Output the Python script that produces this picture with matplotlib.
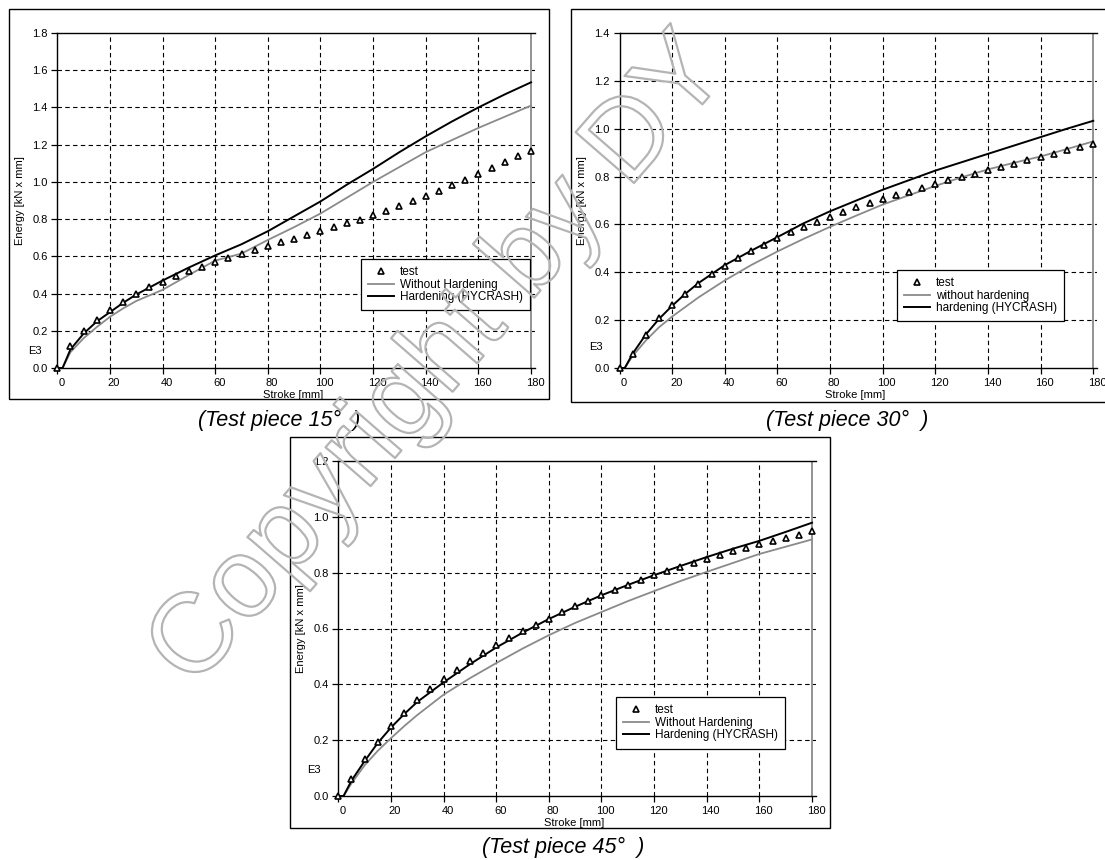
import matplotlib
matplotlib.use('Agg')
import matplotlib.pyplot as plt
import matplotlib.patheffects as pe
from matplotlib.patches import Rectangle
from matplotlib.transforms import ScaledTranslation

plt.rcParams['font.family'] = ['Liberation Sans', 'DejaVu Sans']

# test points (every 5 mm)
test_stroke = [0, 5, 10, 15, 20, 25, 30, 35, 40, 45, 50, 55, 60, 65, 70, 75, 80, 85, 90,
               95, 100, 105, 110, 115, 120, 125, 130, 135, 140, 145, 150, 155, 160, 165,
               170, 175, 180]
test_15 = [0.0, 0.12, 0.20, 0.26, 0.31, 0.356, 0.396, 0.434, 0.464, 0.494, 0.521, 0.544,
           0.571, 0.593, 0.613, 0.634, 0.656, 0.677, 0.695, 0.715, 0.738, 0.756, 0.777,
           0.797, 0.82, 0.845, 0.87, 0.896, 0.924, 0.953, 0.982, 1.012, 1.042, 1.076,
           1.105, 1.137, 1.166]
test_30 = [0.0, 0.057, 0.14, 0.207, 0.262, 0.311, 0.353, 0.392, 0.426, 0.458, 0.488, 0.516,
           0.542, 0.567, 0.59, 0.611, 0.632, 0.653, 0.671, 0.688, 0.705, 0.723, 0.737,
           0.754, 0.769, 0.784, 0.798, 0.812, 0.826, 0.842, 0.854, 0.868, 0.882, 0.896,
           0.91, 0.924, 0.935]
test_45 = [0.0, 0.061, 0.132, 0.195, 0.249, 0.299, 0.345, 0.383, 0.419, 0.451, 0.482, 0.512,
           0.54, 0.565, 0.59, 0.614, 0.635, 0.658, 0.68, 0.70, 0.719, 0.737, 0.755, 0.772,
           0.79, 0.805, 0.82, 0.835, 0.85, 0.865, 0.877, 0.889, 0.901, 0.913, 0.925,
           0.936, 0.949]

# simulation curves
sim_stroke = [0, 2, 5, 10, 15, 20, 25, 30, 40, 50, 60, 70, 80, 90, 100, 110, 120, 130,
              140, 150, 160, 170, 180]
nohard_15 = [0.0, 0.0, 0.085, 0.16, 0.22, 0.275, 0.32, 0.36, 0.42, 0.50, 0.577, 0.615,
             0.688, 0.757, 0.83, 0.915, 1.0, 1.08, 1.16, 1.225, 1.29, 1.35, 1.41]
hard_15 = [0.0, 0.0, 0.10, 0.185, 0.25, 0.30, 0.35, 0.395, 0.47, 0.54, 0.605, 0.665,
           0.735, 0.815, 0.895, 0.985, 1.07, 1.16, 1.245, 1.325, 1.40, 1.47, 1.535]
nohard_30 = [0.0, 0.0, 0.05, 0.115, 0.17, 0.215, 0.255, 0.295, 0.366, 0.43, 0.487, 0.54,
             0.59, 0.637, 0.683, 0.722, 0.761, 0.797, 0.83, 0.858, 0.884, 0.915, 0.947]
hard_30 = [0.0, 0.0, 0.06, 0.14, 0.205, 0.26, 0.31, 0.355, 0.43, 0.49, 0.547, 0.605,
           0.655, 0.70, 0.745, 0.785, 0.825, 0.86, 0.895, 0.93, 0.965, 1.0, 1.033]
nohard_45 = [0.0, 0.0, 0.045, 0.11, 0.162, 0.207, 0.25, 0.29, 0.363, 0.422, 0.476, 0.528,
             0.576, 0.62, 0.659, 0.698, 0.734, 0.77, 0.803, 0.835, 0.867, 0.893, 0.919]
hard_45 = [0.0, 0.0, 0.055, 0.125, 0.19, 0.245, 0.293, 0.337, 0.407, 0.472, 0.532, 0.585,
           0.634, 0.678, 0.719, 0.756, 0.791, 0.824, 0.856, 0.886, 0.914, 0.946, 0.979]

x_ticks = [0, 20, 40, 60, 80, 100, 120, 140, 160, 180]

W, H = 1105, 860
fig = plt.figure(figsize=(W / 100, H / 100), dpi=100)


def px_axes(left, top, right, bottom):
    return fig.add_axes([left / W, 1 - bottom / H, (right - left) / W, (bottom - top) / H])


def frame(left, top, right, bottom):
    fig.patches.append(Rectangle((left / W, 1 - bottom / H), (right - left) / W,
                                 (bottom - top) / H, transform=fig.transFigure,
                                 fill=False, edgecolor='black', linewidth=1.0))


def panel(ax, test, nohard, hard, ymax, labels, leg_anchor, e3_pos):
    ax.set_xlim(0, 181.5)
    ax.set_ylim(0, ymax)
    yt = [round(0.2 * i, 1) for i in range(int(round(ymax / 0.2)) + 1)]
    ax.set_xticks(x_ticks)
    ax.set_yticks(yt)
    ax.set_yticklabels([f'{v:.1f}' for v in yt])
    ax.tick_params(direction='out', length=4, width=0.9, labelsize=8, pad=3, colors='black')
    for lab in ax.get_xticklabels():
        lab.set_transform(lab.get_transform() + ScaledTranslation(4 / 100, 0, fig.dpi_scale_trans))
    for s in ['left', 'bottom', 'top']:
        ax.spines[s].set_linewidth(1.0)
    ax.spines['right'].set_visible(False)
    for v in x_ticks[1:-1]:
        ax.axvline(v, color='black', lw=0.8, ls=(0, (4, 3)), zorder=1)
    for v in yt[1:-1]:
        ax.axhline(v, color='black', lw=0.8, ls=(0, (4, 3)), zorder=1)
    ax.axvline(180, color='#808080', lw=1.2, zorder=1)

    ax.plot(test_stroke, test, ls='none', marker='^', ms=4.5, mfc='white', mec='black',
            mew=1.2, label='test', zorder=4, clip_on=False)
    ax.plot(sim_stroke, nohard, color='#8a8a8a', lw=1.3, label=labels[0], zorder=3)
    ax.plot(sim_stroke, hard, color='black', lw=1.4, label=labels[1], zorder=3)

    leg = ax.legend(loc='upper left', bbox_to_anchor=leg_anchor, borderaxespad=0,
                    fontsize=8.5, frameon=True, fancybox=False, edgecolor='black',
                    framealpha=1, handlelength=2.2, handletextpad=0.5, labelspacing=0.05,
                    borderpad=0.6)
    leg.get_frame().set_linewidth(0.9)
    leg.set_zorder(5)

    ax.text(-0.078, 0.5, 'Energy [kN x mm]', transform=ax.transAxes, rotation=90,
            ha='center', va='center', fontsize=8)
    ax.text(0.493, -0.081, 'Stroke [mm]', transform=ax.transAxes, ha='center',
            va='center', fontsize=8)
    ax.text(e3_pos[0], e3_pos[1], 'E3', transform=ax.transAxes, ha='center',
            va='center', fontsize=8)


frame(9, 9, 549, 399)
frame(571, 9, 1111, 402)
frame(290, 437, 830, 828)

ax1 = px_axes(57.3, 33, 535, 368)
panel(ax1, test_15, nohard_15, hard_15, 1.8, ['Without Hardening', 'Hardening (HYCRASH)'],
      (0.636, 0.325), (-0.047, 0.05))
ax2 = px_axes(619.5, 33, 1097.2, 368)
panel(ax2, test_30, nohard_30, hard_30, 1.4, ['without hardening', 'hardening (HYCRASH)'],
      (0.581, 0.2925), (-0.049, 0.063))
ax3 = px_axes(338.3, 461, 816, 796)
panel(ax3, test_45, nohard_45, hard_45, 1.2, ['Without Hardening', 'Hardening (HYCRASH)'],
      (0.582, 0.295), (-0.051, 0.078))

cap = dict(ha='center', va='center', fontsize=15.5, style='italic')
fig.text(279 / W, 1 - 420 / H, '(Test piece 15°  )', **cap)
fig.text(847 / W, 1 - 420 / H, '(Test piece 30°  )', **cap)
fig.text(563 / W, 1 - 847 / H, '(Test piece 45°  )', **cap)

# watermark outline
fig.text(440 / W, 1 - 362 / H, 'Copyright by DY', ha='center', va='center',
         rotation=49, rotation_mode='anchor', fontsize=81, color='none', zorder=10,
         path_effects=[pe.withStroke(linewidth=1.6, foreground='#b4b4b4')])

fig.savefig('out.png', dpi=100)
